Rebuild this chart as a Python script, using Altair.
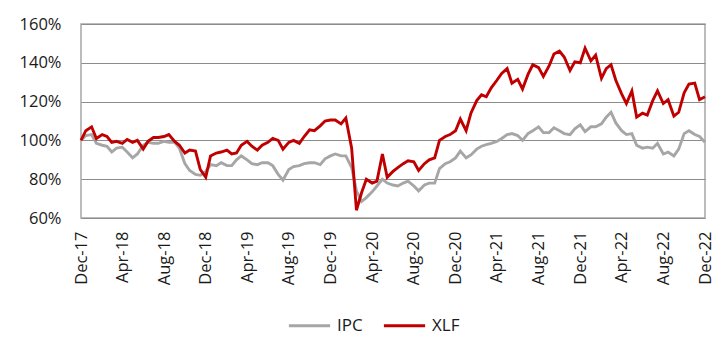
import altair as alt
import pandas as pd

# Semi-monthly observation dates (1st and 15th), Dec-2017 .. Dec-2022
dates = pd.date_range("2017-12-01", "2022-12-01", freq="SMS")

ipc = [
    100, 102.5, 103, 98.5, 97.5, 97, 94, 96, 96.5, 94,
    91, 93, 97.5, 99, 98.5, 98.5, 99.5, 99, 99, 96,
    88, 84.5, 82.5, 82, 84, 87.5, 87, 88.5, 87, 87,
    90, 92, 90, 88, 87.5, 88.5, 88.5, 87, 82.5, 79.5,
    85, 86.5, 87, 88, 88.5, 88.5, 87.5, 90.5, 92, 93,
    92, 92, 86, 74, 68.5, 70.5, 73.5, 76.5, 80, 78,
    77, 76.5, 78, 79, 76.5, 74, 77, 78, 78, 85.5,
    88, 89, 91, 94.5, 91, 92.5, 95.5, 97, 97.8, 98.5,
    99.5, 101, 103, 103.5, 102.5, 100, 103.5, 105, 107, 104,
    104, 106.5, 105, 103.5, 103, 106, 108, 104.5, 107, 107,
    108.5, 112, 114.5, 109, 105, 103, 103.5, 97.5, 96, 96.5,
    96, 98.5, 93, 94, 92, 95.5, 103.5, 105, 103, 102,
    99,
]

xlf = [
    100, 105, 107, 101, 103, 102, 99, 99.5, 98.5, 100.5,
    99, 100, 95.5, 99.5, 101.5, 101.5, 102, 103, 99.5, 97.5,
    93.5, 95, 94.5, 85, 81, 92, 93.5, 94, 95, 93,
    93.5, 97.5, 99.5, 97, 95, 97.5, 99, 101, 100, 95.5,
    99, 100, 98.5, 102, 105.5, 105, 107.5, 110, 110.5, 110.5,
    108.5, 111.5, 96, 64, 73, 80, 78, 79, 93, 81,
    84, 86, 88, 89.5, 89, 84.5, 88, 90, 91, 100,
    102, 103, 105, 111, 105, 114, 120.5, 123.5, 122.5, 127,
    131, 134.5, 137, 129.5, 131.5, 126.5, 134, 139, 137.5, 133,
    138.5, 144.5, 146, 143, 136, 140.5, 140, 147.5, 141, 144,
    132, 137, 139, 131, 124, 119, 125.5, 112, 114, 113,
    120.5, 125.5, 119, 121, 112.5, 114.5, 124.5, 129, 129.5, 121,
    122.5,
]

series_names = ["IPC", "XLF"]
series_colors = ["#A6A6A6", "#C00000"]
y_ticks = [60, 80, 100, 120, 140, 160]
x_ticks = pd.date_range("2017-12-01", "2022-12-01", freq="4MS")

df = pd.concat([
    pd.DataFrame({"date": dates, "value": ipc, "series": "IPC"}),
    pd.DataFrame({"date": dates, "value": xlf, "series": "XLF"}),
], ignore_index=True)

x_vals = [alt.DateTime(year=d.year, month=d.month, date=1) for d in x_ticks]

chart = alt.Chart(df).mark_line(strokeWidth=2.9).encode(
    x=alt.X(
        "date:T",
        scale=alt.Scale(
            domain=[alt.DateTime(year=2017, month=12, date=1),
                    alt.DateTime(year=2022, month=12, date=1)],
            nice=False,
        ),
        axis=alt.Axis(
            values=x_vals, format="%b-%y", labelAngle=-90, title=None,
            grid=False, ticks=False, domain=False, labelPadding=13,
        ),
    ),
    y=alt.Y(
        "value:Q",
        scale=alt.Scale(domain=[60, 160], nice=False, zero=False),
        axis=alt.Axis(
            values=y_ticks, labelExpr="datum.value + '%'", title=None,
            grid=True, ticks=False, domain=False, labelPadding=20,
        ),
    ),
    color=alt.Color(
        "series:N",
        scale=alt.Scale(domain=series_names, range=series_colors),
        legend=alt.Legend(
            title=None, orient="none", direction="horizontal",
            legendX=206, legendY=279, symbolType="stroke",
            symbolSize=1700, symbolStrokeWidth=3, labelOffset=5,
            columnPadding=14,
        ),
    ),
).properties(
    width=624,
    height=194,
    autosize=alt.AutoSizeParams(type="none"),
    padding={"left": 73, "top": 16, "right": 15, "bottom": 130},
).configure(
    font="Open Sans",
).configure_axis(
    labelFont="Open Sans", labelFontSize=16.5, labelColor="#1a1a1a",
    gridColor="#8C8C8C", gridWidth=1,
).configure_legend(
    labelFont="Open Sans", labelFontSize=17, labelColor="#1a1a1a",
).configure_view(
    stroke="#A6A6A6", strokeWidth=1.5,
)

chart.save("out.html", embed_options={"renderer": "svg", "actions": False})
